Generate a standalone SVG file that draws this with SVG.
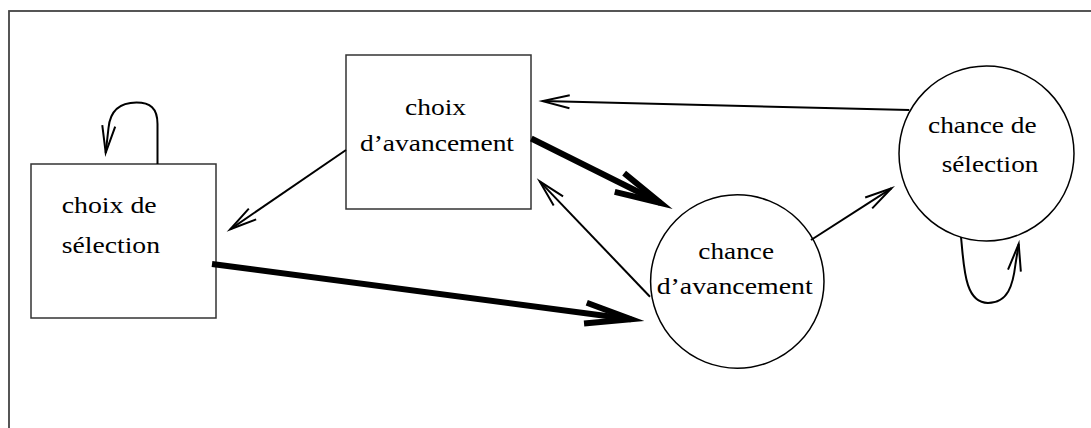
<svg xmlns="http://www.w3.org/2000/svg" width="1091" height="428" viewBox="0 0 1091 428">
<style>
.frame{fill:none;stroke:#444;stroke-width:1.8}
.box{fill:#fff;stroke:#333;stroke-width:1.5}
.circ{fill:#fff;stroke:#000;stroke-width:1.5}
.lbl{font-family:"Liberation Serif","Times New Roman",serif;font-size:23.5px;fill:#000}
.thin{fill:none;stroke:#000;stroke-width:2}
.thick{fill:none;stroke:#000;stroke-width:6}
</style>
<defs>
<marker id="ahThin" markerUnits="userSpaceOnUse" orient="auto" refX="0" refY="0" markerWidth="1" markerHeight="1" overflow="visible">
<path d="M-27,-6.5 L0,0 L-27,6.5" fill="none" stroke="#000" stroke-width="2" stroke-miterlimit="10"/>
</marker>
<marker id="ahThick" markerUnits="userSpaceOnUse" orient="auto" refX="0" refY="0" markerWidth="1" markerHeight="1" overflow="visible">
<path d="M-46,-10.5 L0,0 L-46,10.5" fill="none" stroke="#000" stroke-width="6" stroke-miterlimit="10"/>
</marker>
</defs>
<rect width="1091" height="428" fill="#fff"/>
<rect class="frame" x="9" y="11" width="1200" height="600"/>

<g id="choix-selection">
<rect class="box" x="31" y="164" width="185" height="154"/>
<text class="lbl" x="61.7" y="213" textLength="95" lengthAdjust="spacingAndGlyphs">choix de</text>
<text class="lbl" x="61.7" y="253" textLength="98.3" lengthAdjust="spacingAndGlyphs">sélection</text>
</g>

<g id="choix-avancement">
<rect class="box" x="346" y="55" width="185" height="154"/>
<text class="lbl" x="405" y="115" textLength="61" lengthAdjust="spacingAndGlyphs">choix</text>
<text class="lbl" x="360" y="150.7" textLength="154" lengthAdjust="spacingAndGlyphs">d’avancement</text>
</g>

<g id="chance-avancement">
<circle class="circ" cx="737.3" cy="281.5" r="86.7"/>
<text class="lbl" x="698.3" y="259" textLength="75.7" lengthAdjust="spacingAndGlyphs">chance</text>
<text class="lbl" x="656.7" y="294.3" textLength="156" lengthAdjust="spacingAndGlyphs">d’avancement</text>
</g>

<g id="chance-selection">
<circle class="circ" cx="986.5" cy="153.5" r="87.5"/>
<text class="lbl" x="928" y="132.7" textLength="108.7" lengthAdjust="spacingAndGlyphs">chance de</text>
<text class="lbl" x="941.7" y="172.3" textLength="96.7" lengthAdjust="spacingAndGlyphs">sélection</text>
</g>

<g id="connectors">
<path class="thin" d="M157.5,164 L157.5,124 C157.5,108 150,102.5 136.5,102.5 C118,102.5 110,112 108.5,128 L105.7,152.8" marker-end="url(#ahThin)"/>
<path class="thin" d="M346,150 L230.2,229.3" marker-end="url(#ahThin)"/>
<path class="thick" d="M212,264 L631,319.2" marker-end="url(#ahThick)"/>
<path class="thick" d="M531.3,138.5 L660.6,203" marker-end="url(#ahThick)"/>
<path class="thin" d="M650,296.7 L539.7,181.4" marker-end="url(#ahThin)"/>
<path class="thin" d="M811,240 L891.4,188.3" marker-end="url(#ahThin)"/>
<path class="thin" d="M909.3,110 L542.6,101.1" marker-end="url(#ahThin)"/>
<path class="thin" d="M961,237 C964,265 964,303 988,303 C1008,303 1013,285 1015.5,264 L1018.7,244" marker-end="url(#ahThin)"/>
</g>
</svg>
